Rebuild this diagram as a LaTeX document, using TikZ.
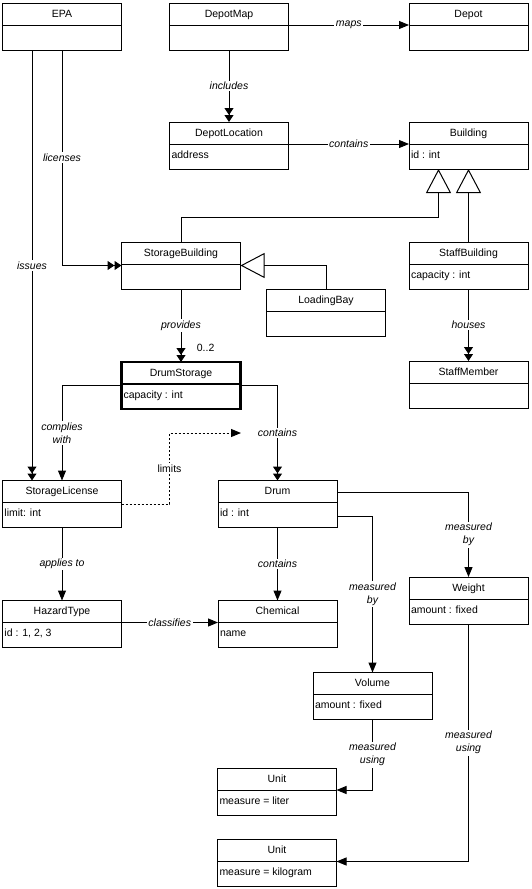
\documentclass[tikz,border=0pt]{standalone}
\usepackage{fontspec}
\setmainfont{Liberation Sans}
\usetikzlibrary{arrows.meta}

% class box: name, title compartment, attribute compartment
\newcommand{\umlclass}[5][]{%
  \node[classbox,#1] (#2) at (#3) {};
  \coordinate (#2-dw) at ([yshift=-22pt]#2.north west);
  \coordinate (#2-de) at ([yshift=-22pt]#2.north east);
  \draw[#1] (#2-dw) -- (#2-de);
  \node[anchor=base] (#2-title) at ([yshift=-14pt]#2.north) {#4};
  \node[anchor=base west,inner sep=1.5pt] (#2-attr) at ([yshift=-14pt]#2-dw) {#5};
}

\begin{document}
\begin{tikzpicture}[x=1pt,y=-1pt,line width=1pt,
    font=\fontsize{10.5}{13}\selectfont,
    classbox/.style={draw,minimum width=119pt,minimum height=47pt,inner sep=0pt,outer sep=0pt},
    lbl/.style={fill=white,inner sep=1.5pt,align=center,font=\fontsize{10.5}{13}\selectfont\itshape},
    lblup/.style={lbl,font=\fontsize{10.5}{13}\selectfont},
    onehead/.style={-{Triangle[length=10pt,width=8pt]}},
    twohead/.style={-{Triangle[length=7pt,width=9pt]Triangle[length=7pt,width=9pt]}},
    gen/.style={-{Triangle[open,length=24pt,width=25pt]}}]

\path[use as bounding box,fill=white] (0,0) rectangle (531,889);

% classes
\umlclass{epa}{62,26.5}{EPA}{}
\umlclass{dmap}{229,26.5}{DepotMap}{}
\umlclass{depot}{468.5,26.5}{Depot}{}
\umlclass{dloc}{229,145.5}{DepotLocation}{address}
\umlclass{building}{468.5,145.5}{Building}{id : int}
\umlclass{sbuild}{181,265.5}{StorageBuilding}{}
\umlclass{lbay}{326,312.5}{LoadingBay}{}
\umlclass{staffb}{468.5,265.5}{StaffBuilding}{capacity : int}
\umlclass[line width=2.5pt]{dstore}{181,385.5}{DrumStorage}{capacity : int}
\umlclass{staffm}{468.5,384.5}{StaffMember}{}
\umlclass{slic}{62,504}{StorageLicense}{limit: int}
\umlclass{drum}{277.5,504}{Drum}{id : int}
\umlclass{hazard}{62,624}{HazardType}{id : 1, 2, 3}
\umlclass{chem}{277.5,624}{Chemical}{name}
\umlclass{weight}{468.5,600.5}{Weight}{amount : fixed}
\umlclass{volume}{372.5,696}{Volume}{amount : fixed}
\umlclass{unitl}{277,791.5}{Unit}{measure = liter}
\umlclass{unitk}{277,863}{Unit}{measure = kilogram}

% associations
\draw[onehead] (dmap-de) -- node[lbl] {maps} (depot-dw);
\draw[twohead] (dmap.south) -- node[lbl] {includes} (dloc.north);
\draw[onehead] (dloc-de) -- node[lbl] {contains} (building-dw);
\draw[twohead] (epa.south) |- node[lbl,pos=0.25] {licenses} (sbuild.west);
\draw[twohead] ([xshift=-30pt]epa.south) -- node[lbl] {issues} ([xshift=-30pt]slic.north);
\draw[twohead] (sbuild.south) -- node[lbl] {provides}
      node[pos=0.8,anchor=west,xshift=12pt] {0..2} (dstore.north);
\draw[twohead] (staffb.south) -- node[lbl] {houses} (staffm.north);
\draw[onehead] (dstore.west) -| node[lbl,pos=0.75] {complies\\with} (slic.north);
\draw[twohead] (dstore.east) -| node[lbl,pos=0.75] {contains} (drum.north);
\coordinate (limtip) at (241,433);
\draw[onehead,dash pattern=on 2pt off 2pt] (slic.east) -- ++(48,0)
      |- node[lblup,pos=0.25] {limits} (limtip);
\draw[onehead] (slic.south) -- node[lbl] {applies to} (hazard.north);
\draw[onehead] (drum.south) -- node[lbl] {contains} (chem.north);
\draw[onehead] (hazard-de) -- node[lbl] {classifies} (chem-dw);
\draw[onehead] ([yshift=-12pt]drum.north east) -| node[lbl,pos=0.75] {measured\\by} (weight.north);
\draw[onehead] ([yshift=-12pt]drum.east) -| node[lbl,pos=0.75] {measured\\by} (volume.north);
\draw[onehead] (volume.south) |- node[lbl,pos=0.25] {measured\\using} (unitl-de);
\draw[onehead] (weight.south) |- node[lbl,pos=0.25] {measured\\using} (unitk-de);

% generalizations
\draw[gen] (sbuild.north) -- ++(0,-25) -| ([xshift=-30pt]building.south);
\draw[gen] (staffb.north) -- (building.south);
\draw[gen] (lbay.north) |- (sbuild.east);

\end{tikzpicture}
\end{document}
